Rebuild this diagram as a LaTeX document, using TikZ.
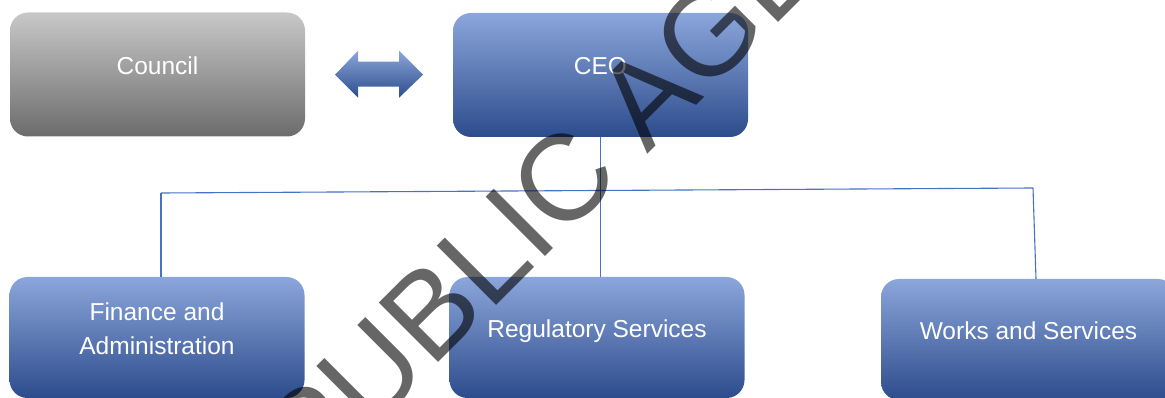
\documentclass[tikz,border=0pt]{standalone}
\usepackage{fontspec}
\setmainfont{Liberation Sans}
\usetikzlibrary{calc}
\definecolor{unitTop}{HTML}{8BA6DB}
\definecolor{unitMid}{HTML}{4A74C6}
\definecolor{unitBot}{HTML}{2D4C8C}
\definecolor{chairTop}{HTML}{C8C8C8}
\definecolor{chairMid}{HTML}{A8A8A8}
\definecolor{chairBot}{HTML}{6C6C6C}
\definecolor{tieBlue}{HTML}{4472C4}
\tikzset{
  unit/.style={shade, top color=unitTop, middle color=unitMid, bottom color=unitBot,
    rounded corners=18pt, minimum width=295pt, minimum height=#1, inner sep=0pt},
  unit/.default=124pt,
  chair/.style={unit, top color=chairTop, middle color=chairMid, bottom color=chairBot},
  caption/.style={text=white, font=\fontsize{24.5}{34}\selectfont, align=center, yshift=9pt},
  tie/.style={draw=tieBlue, line width=1.1pt},
  stamp/.style={rotate=45, text=black, text opacity=0.6, inner sep=0pt,
    font=\fontsize{122}{122}\selectfont}
}
\begin{document}
\begin{tikzpicture}[x=1pt, y=-1pt]
\useasboundingbox (0,0) rectangle (1165,398);
\node[chair, label={[caption]center:Council}] (council) at (157.5,74.5) {};
\node[unit, label={[caption]center:CEO}] (ceo) at (600.5,75) {};
\node[unit=121pt, label={[caption]center:{Finance and\\Administration}}] (fin) at (157,337.5) {};
\node[unit=121pt, label={[caption, yshift=-2.5pt]center:Regulatory Services}] (reg) at (597,337.5) {};
\node[unit=121pt, label={[caption]center:Works and Services}] (works) at (1028.5,339.5) {};

\coordinate (link) at ($(council.east)!0.5!(ceo.west)$);
\shade[top color=unitTop, middle color=unitMid, bottom color=unitBot]
  (link) ++(-44,0) -- ++(23,-24) -- ++(0,11) -- ++(41,0) -- ++(0,-11) -- ++(24,24)
  -- ++(-24,23) -- ++(0,-11) -- ++(-41,0) -- ++(0,11) -- cycle;

\coordinate (busW) at (161,193);
\coordinate (busE) at (1033,188);
\draw[tie] (ceo.south) -- (ceo.south |- reg.north);
\draw[tie] (busW) -- (busE);
\draw[tie] (busW) -- (busW |- fin.north);
\draw[tie] (busE) -- ([xshift=3pt]busE |- works.north);

\node[stamp] (agenda) at (632,110) {PUBLIC AGENDA};
\end{tikzpicture}
\end{document}
